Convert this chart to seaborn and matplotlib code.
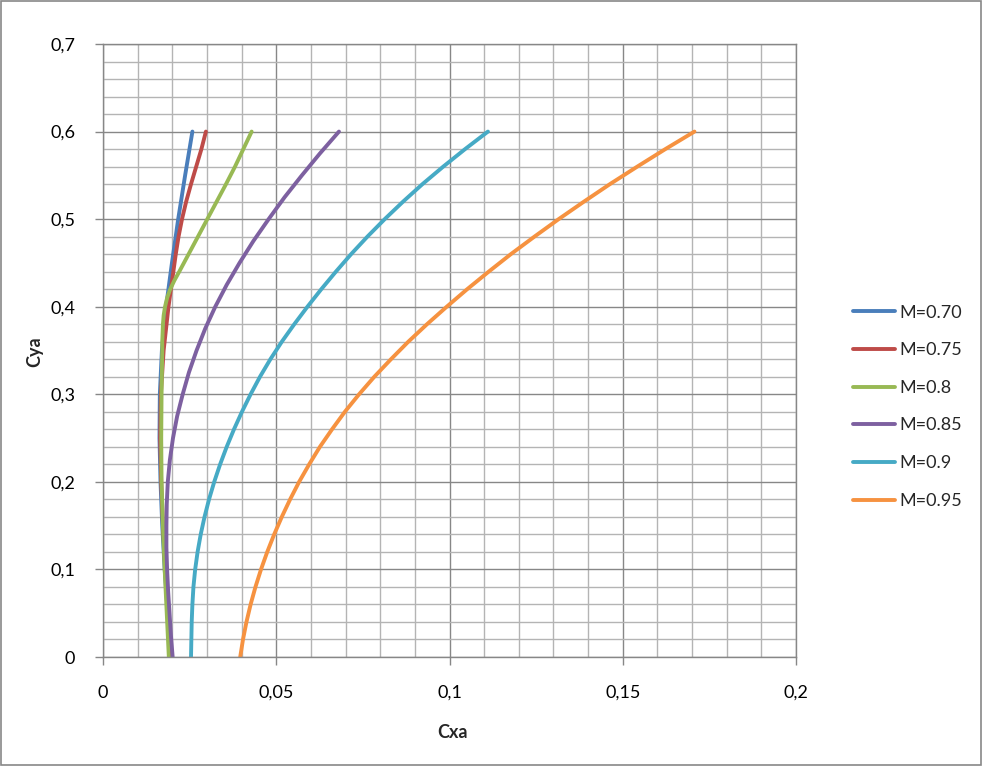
import matplotlib
matplotlib.use("Agg")
import matplotlib.pyplot as plt
from matplotlib.ticker import MultipleLocator, FuncFormatter
from matplotlib.patches import Rectangle
import pandas as pd
import seaborn as sns

# ---- data ----
labels = ["M=0.70", "M=0.75", "M=0.8", "M=0.85", "M=0.9", "M=0.95"]
colors = ["#4A7EBB", "#BE4B48", "#98B954", "#7D60A0", "#46AAC5", "#F69240"]

y_070 = [0, 0.05, 0.1, 0.15, 0.2, 0.25, 0.3, 0.35, 0.4, 0.45, 0.5, 0.55, 0.6]
x_070 = [0.0195, 0.0187, 0.0178, 0.0171, 0.0166, 0.0163, 0.0164, 0.0170, 0.0182, 0.0199, 0.0217, 0.0237, 0.0258]

y_075 = [0, 0.05, 0.1, 0.15, 0.2, 0.25, 0.3, 0.35, 0.4, 0.42, 0.44, 0.46, 0.48, 0.5, 0.52, 0.54, 0.56, 0.58, 0.6]
x_075 = [0.0198, 0.0189, 0.0180, 0.0173, 0.0168, 0.0165, 0.0167, 0.0175, 0.0189, 0.0196, 0.0203, 0.0210,
         0.0218, 0.0228, 0.0240, 0.0254, 0.0269, 0.0284, 0.0297]

y_080 = [0, 0.05, 0.1, 0.15, 0.2, 0.25, 0.3, 0.35, 0.36, 0.37, 0.38, 0.39, 0.4, 0.41, 0.42, 0.43, 0.44,
         0.46, 0.48, 0.5, 0.52, 0.54, 0.56, 0.58, 0.6]
x_080 = [0.0190, 0.0184, 0.0178, 0.0173, 0.0169, 0.0168, 0.0169, 0.0171, 0.0171, 0.0172, 0.0173, 0.0175,
         0.0179, 0.0185, 0.0194, 0.0206, 0.0220, 0.0247, 0.0274, 0.0301, 0.0328, 0.0355, 0.0381, 0.0405,
         0.0429]

y_085 = [0, 0.025, 0.05, 0.075, 0.1, 0.125, 0.15, 0.175, 0.2, 0.225, 0.25, 0.275, 0.3, 0.325, 0.35, 0.375,
         0.4, 0.425, 0.45, 0.475, 0.5, 0.525, 0.55, 0.575, 0.6]
x_085 = [0.0201, 0.0196, 0.0192, 0.0188, 0.0185, 0.0183, 0.0183, 0.0184, 0.0187, 0.0193, 0.0202, 0.0214,
         0.0230, 0.0248, 0.0270, 0.0295, 0.0324, 0.0357, 0.0394, 0.0434, 0.0478, 0.0524, 0.0574, 0.0626,
         0.0681]

y_090 = [0, 0.02, 0.04, 0.06, 0.08, 0.1, 0.12, 0.14, 0.16, 0.18, 0.2, 0.22, 0.24, 0.26, 0.28, 0.3, 0.32,
         0.34, 0.36, 0.38, 0.4, 0.42, 0.44, 0.46, 0.48, 0.5, 0.52, 0.54, 0.56, 0.58, 0.6]
x_090 = [0.0254, 0.0255, 0.0256, 0.0258, 0.0261, 0.0266, 0.0273, 0.0282, 0.0293, 0.0306, 0.0321, 0.0338,
         0.0357, 0.0378, 0.0401, 0.0426, 0.0453, 0.0483, 0.0516, 0.0552, 0.0590, 0.0630, 0.0672, 0.0716,
         0.0763, 0.0813, 0.0866, 0.0922, 0.0982, 0.1045, 0.1111]

y_095 = [0, 0.02, 0.04, 0.06, 0.08, 0.1, 0.12, 0.14, 0.16, 0.18, 0.2, 0.22, 0.24, 0.26, 0.28, 0.3, 0.32,
         0.34, 0.36, 0.38, 0.4, 0.42, 0.44, 0.46, 0.48, 0.5, 0.52, 0.54, 0.56, 0.58, 0.6]
x_095 = [0.0396, 0.0404, 0.0414, 0.0426, 0.0440, 0.0456, 0.0474, 0.0494, 0.0516, 0.0540, 0.0566, 0.0595,
         0.0626, 0.0661, 0.0698, 0.0739, 0.0783, 0.0831, 0.0881, 0.0935, 0.0992, 0.1051, 0.1113, 0.1177,
         0.1245, 0.1315, 0.1388, 0.1463, 0.1542, 0.1623, 0.1707]

series = [(x_070, y_070), (x_075, y_075), (x_080, y_080), (x_085, y_085), (x_090, y_090), (x_095, y_095)]

rows = []
for lab, (xs, ys) in zip(labels, series):
    for xv, yv in zip(xs, ys):
        rows.append({"M": lab, "Cxa": xv, "Cya": yv})
df = pd.DataFrame(rows)

# ---- style ----
sns.set_theme(style="white")
plt.rcParams["font.family"] = ["Lato", "DejaVu Sans"]

W, H = 982, 766
fig = plt.figure(figsize=(W / 100, H / 100), dpi=100)
fig.patch.set_facecolor("white")
L, R, T, B = 103, 796, 44, 657
ax = fig.add_axes([L / W, 1 - B / H, (R - L) / W, (B - T) / H])

sns.lineplot(data=df, x="Cxa", y="Cya", hue="M", hue_order=labels, palette=colors,
             sort=False, estimator=None, linewidth=2.8, ax=ax, legend=False)
for ln in ax.lines:
    ln.set_solid_capstyle("round")
    ln.set_solid_joinstyle("round")

ax.set_xlim(0, 0.2)
ax.set_ylim(0, 0.7)
ax.xaxis.set_major_locator(MultipleLocator(0.05))
ax.xaxis.set_minor_locator(MultipleLocator(0.01))
ax.yaxis.set_major_locator(MultipleLocator(0.1))
ax.yaxis.set_minor_locator(MultipleLocator(0.02))
fmt = FuncFormatter(lambda v, p: ("%g" % round(v, 3)).replace(".", ","))
ax.xaxis.set_major_formatter(fmt)
ax.yaxis.set_major_formatter(fmt)

ax.set_axisbelow(True)
ax.grid(which="minor", color="#B4B4B4", linewidth=1.0)
ax.grid(which="major", color="#878787", linewidth=1.0)
for s in ax.spines.values():
    s.set_color("#878787")
    s.set_linewidth(1.0)

ax.tick_params(which="major", direction="out", length=6, width=1, color="#878787",
               left=True, bottom=True, labelsize=13, labelcolor="black")
ax.tick_params(axis="x", which="major", pad=14)
ax.tick_params(axis="y", which="major", pad=14)
ax.tick_params(which="minor", length=0)
ax.set_xlabel("")
ax.set_ylabel("")

fig.text(453 / W, 1 - 733 / H, "Cxa", ha="center", va="center", fontsize=13, fontweight="bold")
fig.text(35 / W, 1 - 352 / H, "Cya", ha="center", va="center", rotation=90, fontsize=13,
         fontweight="bold")

fs = 13
fpx = fs * 100 / 72
fig.legend(handles=ax.lines[:6], labels=labels, loc="upper left",
           bbox_to_anchor=(853 / W, 1 - 304.5 / H), frameon=False, fontsize=fs,
           handlelength=42 / fpx, handletextpad=4 / fpx, labelspacing=1.2,
           borderpad=0, borderaxespad=0)

fig.add_artist(Rectangle((1 / W, 1 / H), 1 - 2 / W, 1 - 2 / H, transform=fig.transFigure,
                         fill=False, edgecolor="#878787", linewidth=1.2))

fig.savefig("out.png", dpi=100)
